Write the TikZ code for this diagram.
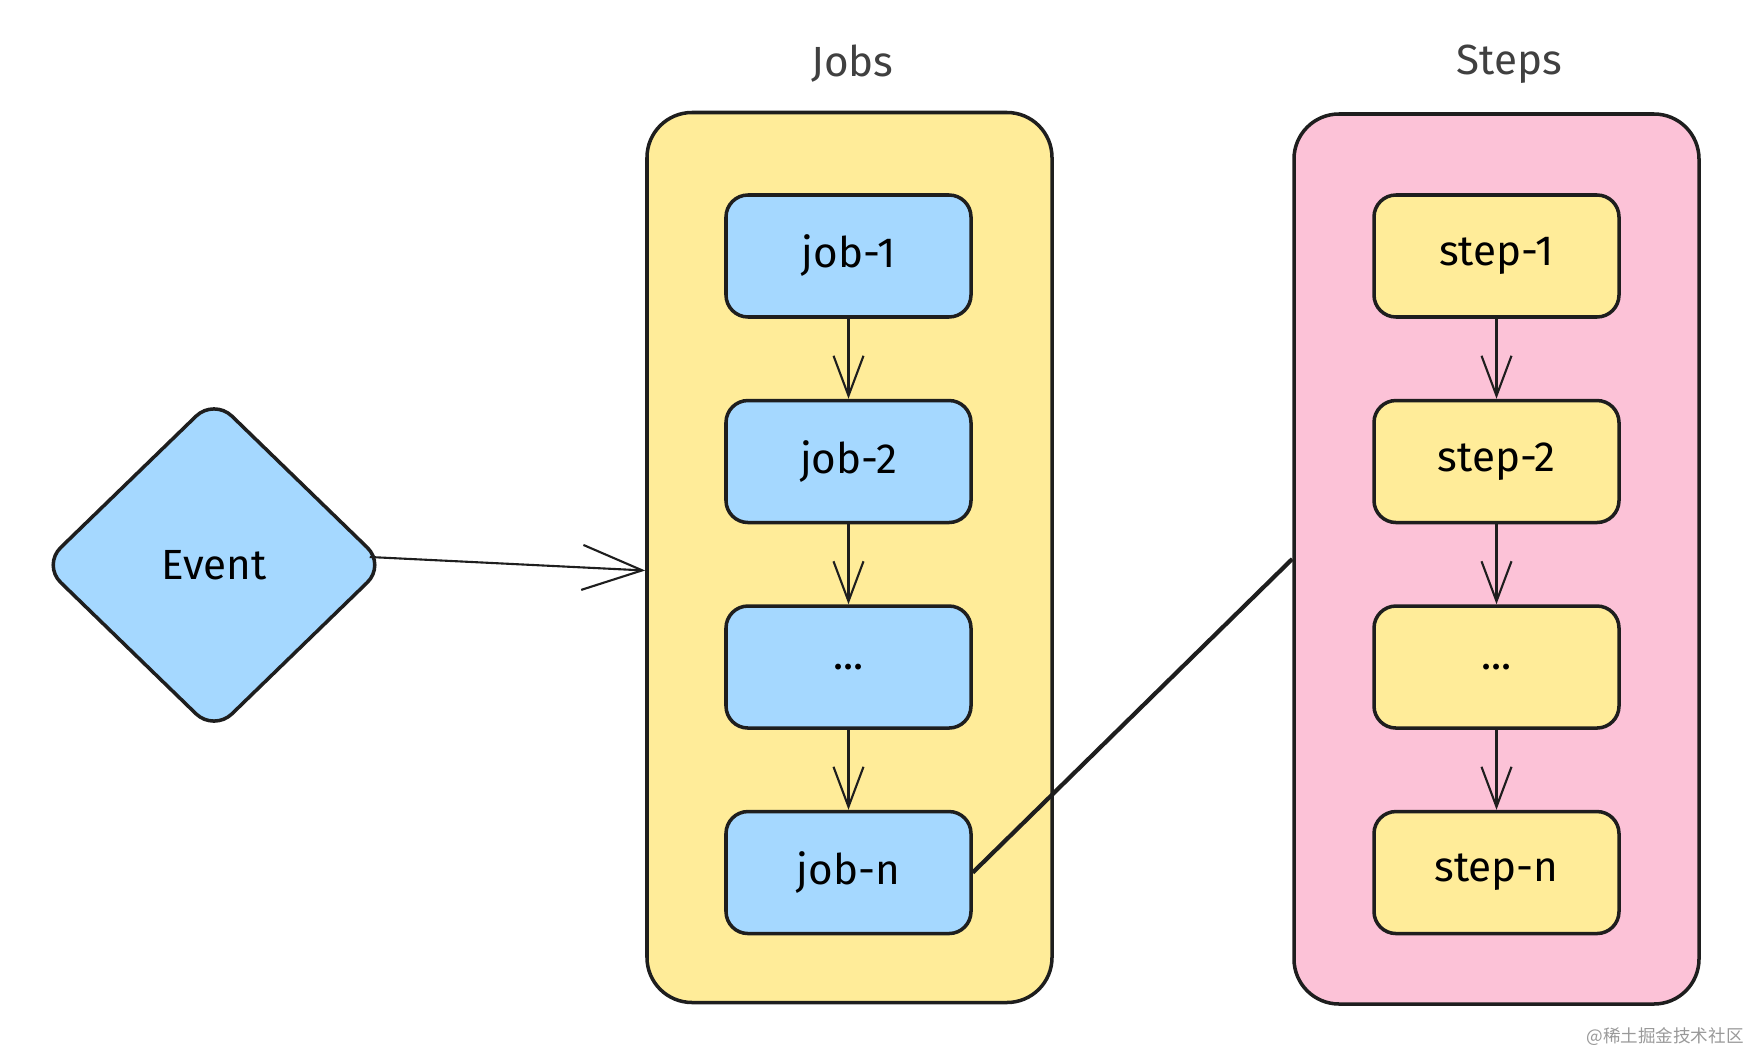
\documentclass[tikz,border=0pt]{standalone}
\usepackage{fontspec}
\setmainfont{Fira Sans}
\newfontfamily\cjkfont{Noto Sans CJK SC}
\usetikzlibrary{positioning, shapes.geometric, arrows.meta}
\definecolor{ink}{HTML}{1E1E1E}
\definecolor{jobblue}{HTML}{A5D8FF}
\definecolor{groupyellow}{HTML}{FFEC99}
\definecolor{grouppink}{HTML}{FCC2D7}
\tikzstyle{GroupBox}=[rectangle, rounded corners=4.5mm, draw=ink, line width=1pt, minimum width=40.5mm, minimum height=89mm]
\tikzstyle{JobBox}=[rectangle, rounded corners=2.2mm, draw=ink, fill=jobblue, line width=1pt, minimum width=24.5mm, minimum height=12.2mm, font=\fontsize{12}{14}\selectfont]
\tikzstyle{StepBox}=[JobBox, fill=groupyellow]
\tikzstyle{EventDiamond}=[diamond, rounded corners=2.5mm, draw=ink, fill=jobblue, line width=1pt, minimum width=34.4mm, minimum height=33.4mm, inner sep=0pt, font=\fontsize{12}{14}\selectfont]
\tikzstyle{TitleText}=[font=\fontsize{12}{14}\selectfont, text=ink!85]
\tikzstyle{FlowArrow}=[-{Straight Barb[length=4mm, width=3mm]}, draw=ink, line width=0.6pt]
\tikzstyle{LinkLine}=[draw=ink, line width=1.2pt]

\begin{document}
\begin{tikzpicture}[x=1mm, y=-1mm]
			\useasboundingbox (0,0) rectangle (176.1,105.4);

			%Grupos
			\node[GroupBox, fill=groupyellow]	(jobs)		at (84.95,55.75)	{};
			\node[GroupBox, fill=grouppink]		(steps)		at (149.65,55.9)	{};
			\node[TitleText]	(jobs_title)	[above=1.6mm of jobs, xshift=0.3mm]		{Jobs};
			\node[TitleText]	(steps_title)	[above=1.6mm of steps, xshift=1.3mm]	{Steps};

			%Nodos
			\node[JobBox]		(job1)		at (84.85,25.6)				{job-1};
			\node[JobBox]		(job2)		[below=8mm of job1]		{job-2};
			\node[JobBox]		(jobdots)	[below=8mm of job2]		{...};
			\node[JobBox]		(jobn)		[below=8mm of jobdots]	{job-n};

			\node[StepBox]		(step1)		at (149.65,25.6)			{step-1};
			\node[StepBox]		(step2)		[below=8mm of step1]		{step-2};
			\node[StepBox]		(stepdots)	[below=8mm of step2]		{...};
			\node[StepBox]		(stepn)		[below=8mm of stepdots]	{step-n};

			\node[EventDiamond]	(event)		at (21.4,56.5)				{Event};

			\node[font=\cjkfont\fontsize{5}{6}\selectfont, text=black!40, anchor=east]	(marca)	at (175.6,103.7)	{@稀土掘金技术社区};

			%Lineas
			\draw[FlowArrow] (job1) -- (job2);
			\draw[FlowArrow] (job2) -- (jobdots);
			\draw[FlowArrow] (jobdots) -- (jobn);

			\draw[FlowArrow] (step1) -- (step2);
			\draw[FlowArrow] (step2) -- (stepdots);
			\draw[FlowArrow] (stepdots) -- (stepn);

			\draw[FlowArrow, -{Straight Barb[length=6mm, width=4.5mm]}] ([xshift=-1.8mm, yshift=0.8mm]event.east) -- ([yshift=-1.3mm]jobs.west);
			\draw[LinkLine] (jobn.east) -- (steps.west);

		\end{tikzpicture}
\end{document}
